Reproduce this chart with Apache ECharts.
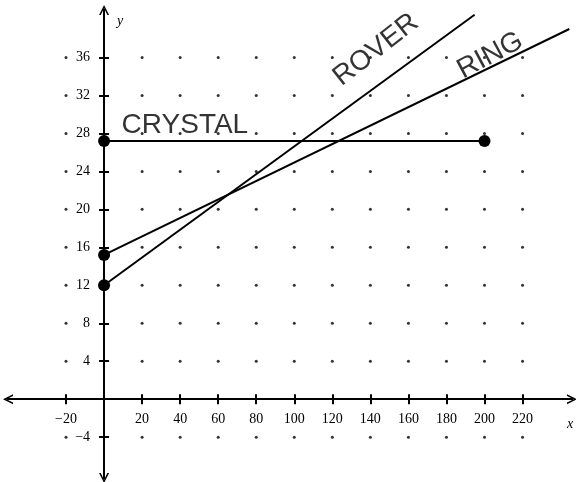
<!DOCTYPE html>
<html>
<head>
<meta charset="utf-8">
<script src="https://cdn.jsdelivr.net/npm/echarts@6/dist/echarts.min.js"></script>
<style>html,body{margin:0;padding:0;background:#fff}#c{width:576px;height:482px}</style>
</head>
<body>
<div id="c"></div>
<script>
// ---- data ----
const xTicks = [-20, 20, 40, 60, 80, 100, 120, 140, 160, 180, 200, 220];
const yTicks = [-4, 4, 8, 12, 16, 20, 24, 28, 32, 36];
const crystal = [[0, 27.2], [200, 27.2]];
const ring = [[0, 15.2], [244.6, 39.0]];
const rover = [[0, 12.0], [194.8, 40.5]];
const notes = [
  {name: 'CRYSTAL', value: [42.5, 28.9], rot: 0},
  {name: 'ROVER', value: [143, 36.8], rot: 38},
  {name: 'RING', value: [203, 36.2], rot: 28}
];

const dots = [];
xTicks.forEach(x => yTicks.forEach(y => dots.push([x, y])));

const serif = '"Liberation Serif", "DejaVu Serif", serif';
const hand = '"Liberation Sans Narrow", "Liberation Sans", sans-serif';
const chevron = 'path://M0,12 L6,0 L12,12 L10,12 L6,4 L2,12 Z';

const X_MIN = -50.5, X_MAX = 246, Y_MIN = -8.3, Y_MAX = 41;
const GL = 8, GR = 4, GT = 10, GB = 4, W = 576, H = 482;
const xZeroOff = -((0 - X_MIN) / (X_MAX - X_MIN) * (W - GL - GR));
const yZeroOff = -((0 - Y_MIN) / (Y_MAX - Y_MIN) * (H - GT - GB));

const fmt = v => v < 0 ? '\u2212' + Math.abs(v) : String(v);

function xAx(inside) {
  return {
    type: 'value', min: X_MIN, max: X_MAX, position: 'bottom', offset: yZeroOff,
    splitLine: {show: false},
    axisLine: {show: true, onZero: false, lineStyle: {color: '#000', width: 2},
               symbol: inside ? ['none', 'none'] : [chevron, chevron], symbolSize: [14, 10]},
    axisTick: {show: true, inside: inside, length: 5, lineStyle: {color: '#000', width: 2}, customValues: xTicks},
    axisLabel: inside ? {show: false} :
      {customValues: xTicks, color: '#000', fontFamily: serif, fontSize: 14, margin: 13, formatter: fmt}
  };
}
function yAx(inside) {
  return {
    type: 'value', min: Y_MIN, max: Y_MAX, position: 'left', offset: xZeroOff,
    splitLine: {show: false},
    axisLine: {show: true, onZero: false, lineStyle: {color: '#000', width: 2},
               symbol: inside ? ['none', 'none'] : [chevron, chevron], symbolSize: [14, 10]},
    axisTick: {show: true, inside: inside, length: 5, lineStyle: {color: '#000', width: 2}, customValues: yTicks},
    axisLabel: inside ? {show: false} :
      {customValues: yTicks, color: '#000', fontFamily: serif, fontSize: 14, margin: 14, formatter: fmt}
  };
}

const chart = echarts.init(document.getElementById('c'));
chart.setOption({
  animation: false,
  backgroundColor: '#fff',
  grid: {left: GL, right: GR, top: GT, bottom: GB, outerBoundsMode: 'none'},
  xAxis: [xAx(false), xAx(true)],
  yAxis: [yAx(false), yAx(true)],
  graphic: [
    {type: 'text', left: 117, top: 14, style: {text: 'y', font: 'italic 14px ' + serif, fill: '#000'}},
    {type: 'text', left: 567, top: 417, style: {text: 'x', font: 'italic 14px ' + serif, fill: '#000'}}
  ],
  series: [
    {type: 'scatter', name: 'grid', data: dots, symbolSize: 3, itemStyle: {color: '#000'}, silent: true},
    {type: 'line', name: 'CRYSTAL', data: crystal, symbol: 'circle', symbolSize: 12,
     lineStyle: {color: '#000', width: 2}, itemStyle: {color: '#000'}},
    {type: 'line', name: 'RING', data: ring, symbol: 'circle', showSymbol: true,
     lineStyle: {color: '#000', width: 2}, itemStyle: {color: '#000'},
     symbolSize: (v, p) => p.dataIndex === 0 ? 12 : 0},
    {type: 'line', name: 'ROVER', data: rover, symbol: 'circle',
     lineStyle: {color: '#000', width: 2}, itemStyle: {color: '#000'},
     symbolSize: (v, p) => p.dataIndex === 0 ? 12 : 0},
    {type: 'scatter', name: 'notes', symbolSize: 0,
     data: notes.map(n => ({name: n.name, value: n.value,
       label: {show: true, position: 'inside', formatter: n.name, rotate: n.rot,
               color: '#000', fontFamily: hand, fontSize: 28}}))}
  ]
});
</script>
</body>
</html>
